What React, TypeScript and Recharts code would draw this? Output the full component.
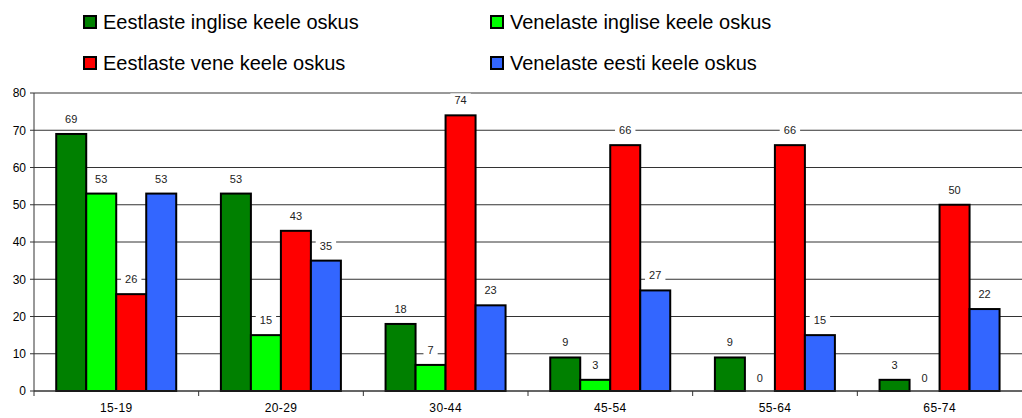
import React from "react";
import { BarChart, Bar, XAxis, YAxis, CartesianGrid, LabelList } from "recharts";

const categories = ["15-19", "20-29", "30-44", "45-54", "55-64", "65-74"];
const eestlasteInglise = [69, 53, 18, 9, 9, 3];
const venelasteInglise = [53, 15, 7, 3, 0, 0];
const eestlasteVene = [26, 43, 74, 66, 66, 50];
const venelasteEesti = [53, 35, 23, 27, 15, 22];
const yTicks = [0, 10, 20, 30, 40, 50, 60, 70, 80];

const series = [
  { key: "ee_en", name: "Eestlaste inglise keele oskus", color: "#008000", values: eestlasteInglise },
  { key: "ru_en", name: "Venelaste inglise keele oskus", color: "#00FF00", values: venelasteInglise },
  { key: "ee_ru", name: "Eestlaste vene keele oskus", color: "#FF0000", values: eestlasteVene },
  { key: "ru_ee", name: "Venelaste eesti keele oskus", color: "#3366FF", values: venelasteEesti },
];

const data = categories.map((c, i) => {
  const row: Record<string, any> = { cat: c };
  series.forEach((s) => (row[s.key] = s.values[i]));
  return row;
});

const W = 1022;
const H = 418;
const XH = 27;
const M = { top: 93, right: 0, bottom: 0, left: 0 };
const YW = 34;
const plotW = W - M.left - M.right - YW;
const bandW = plotW / categories.length;
const axisY = H - XH - M.bottom;
const FONT = "Arial, 'Liberation Sans', sans-serif";

const ValueLabel = (props: any) => {
  const { x, y, width, value } = props;
  const cx = x + width / 2;
  const cy = value === 0 ? axisY - 13 : y - 15;
  const txt = String(value);
  const tw = txt.length * 6.2 + 8;
  return (
    <g>
      <rect x={cx - tw / 2} y={cy - 7} width={tw} height={14} fill="#fff" />
      <text x={cx} y={cy} textAnchor="middle" dominantBaseline="central" fontSize={11} fontFamily={FONT} fill="#222">
        {txt}
      </text>
    </g>
  );
};

const BarShape = (props: any) => {
  const { x, y, width, height, fill, value } = props;
  const v = Array.isArray(value) ? value[1] - value[0] : value;
  if (!v) return <g />;
  return <rect x={x} y={y} width={width} height={height} fill={fill} stroke="#000" strokeWidth={2} />;
};

const XTick = (props: any) => {
  const { x, payload } = props;
  const left = x - bandW / 2;
  return (
    <g>
      <line x1={left} y1={axisY} x2={left} y2={axisY + 5} stroke="#333" />
      <text x={x} y={axisY + 21} textAnchor="middle" fontSize={12} letterSpacing={0.4} fontFamily={FONT} fill="#000">
        {payload.value}
      </text>
    </g>
  );
};

export default function App() {
  const rows = [
    [series[0], series[1]],
    [series[2], series[3]],
  ];
  return (
    <div style={{ position: "absolute", left: 0, top: 0, width: W, height: H, background: "#fff" }}>
      <BarChart width={W} height={H} data={data} margin={M} barCategoryGap="13.5%" barGap={0}>
        <CartesianGrid vertical={false} stroke="#333" strokeWidth={1} />
        <XAxis
          dataKey="cat"
          height={XH}
          tickLine={false}
          axisLine={{ stroke: "#333" }}
          tick={<XTick />}
          interval={0}
        />
        <YAxis
          width={YW}
          domain={[0, 80]}
          ticks={yTicks}
          interval={0}
          axisLine={{ stroke: "#333" }}
          tickLine={{ stroke: "#333" }}
          tickSize={4}
          tickMargin={4}
          tick={{ fontSize: 12, fontFamily: FONT, fill: "#000" }}
        />
        {series.map((s) => (
          <Bar
            key={s.key}
            dataKey={s.key}
            name={s.name}
            fill={s.color}
            stroke="#000"
            strokeWidth={2}
            minPointSize={1}
            shape={<BarShape />}
            isAnimationActive={false}
          >
            <LabelList dataKey={s.key} content={<ValueLabel />} />
          </Bar>
        ))}
      </BarChart>
      {rows.map((row, ri) =>
        row.map((s, ci) => (
          <div
            key={s.key}
            style={{
              position: "absolute",
              left: ci === 0 ? 83 : 490,
              top: ri === 0 ? 9 : 50,
              height: 26,
              display: "flex",
              alignItems: "center",
              fontFamily: FONT,
              fontSize: 20,
              color: "#000",
              whiteSpace: "nowrap",
            }}
          >
            <span
              style={{
                display: "inline-block",
                width: 10,
                height: 10,
                background: s.color,
                border: "2px solid #000",
                marginRight: 6,
              }}
            />
            {s.name}
          </div>
        ))
      )}
    </div>
  );
}
